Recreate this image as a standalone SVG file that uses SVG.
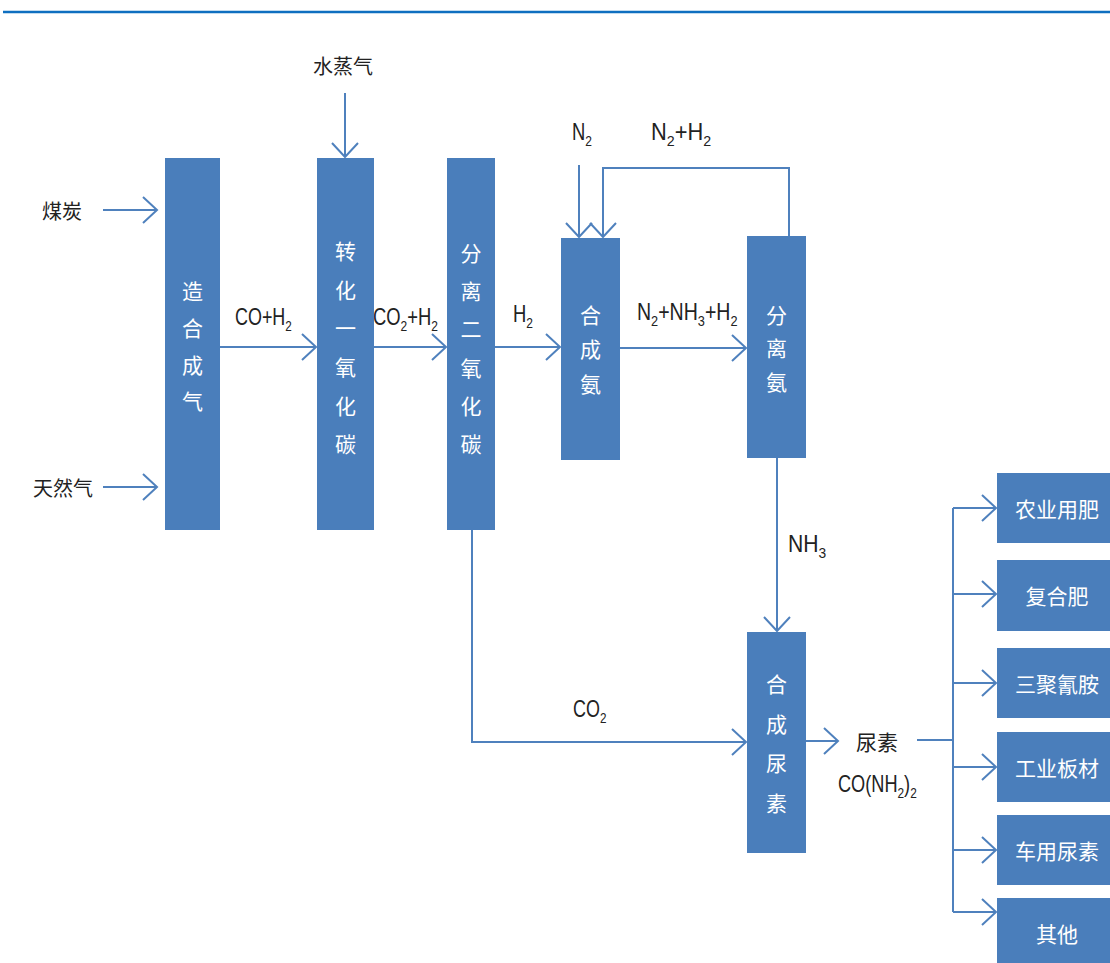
<svg xmlns="http://www.w3.org/2000/svg" width="1110" height="963" viewBox="0 0 1110 963">
<style>
.box{fill:#4A7EBB}
.bt{fill:#FFFFFF;font-family:"Noto Sans CJK SC",sans-serif;font-size:21px;text-anchor:middle;dominant-baseline:central}
.lbl{fill:#222;font-family:"Liberation Sans",Arial,sans-serif;font-size:23px}
.sub{font-size:15px}
.cn{fill:#222;font-family:"Noto Sans CJK SC",sans-serif;font-size:20px;text-anchor:middle;dominant-baseline:central}
.ln{fill:none;stroke:#4F81BD;stroke-width:2}
</style>
<defs>
<marker id="ar" markerUnits="userSpaceOnUse" viewBox="-16 -15 18 30" refX="0" refY="0" markerWidth="18" markerHeight="30" orient="auto" overflow="visible">
<path d="M-14,-13 L0,0 L-14,13" fill="none" stroke="#4F81BD" stroke-width="2"/>
</marker>
</defs>
<rect width="1110" height="963" fill="#FFFFFF"/>
<line x1="3" y1="12" x2="1110" y2="12" stroke="#0F6FC0" stroke-width="2.5"/>

<g id="connectors">
<line class="ln" x1="103" y1="210" x2="157" y2="210" marker-end="url(#ar)"/>
<line class="ln" x1="103" y1="487" x2="157" y2="487" marker-end="url(#ar)"/>
<line class="ln" x1="345" y1="93" x2="345" y2="157" marker-end="url(#ar)"/>
<line class="ln" x1="220" y1="347" x2="316" y2="347" marker-end="url(#ar)"/>
<line class="ln" x1="374" y1="347" x2="446" y2="347" marker-end="url(#ar)"/>
<line class="ln" x1="495" y1="347" x2="560" y2="347" marker-end="url(#ar)"/>
<line class="ln" x1="579" y1="165" x2="579" y2="237" marker-end="url(#ar)"/>
<path class="ln" d="M789,236 V168 H603 V237" marker-end="url(#ar)"/>
<line class="ln" x1="619" y1="348" x2="746" y2="348" marker-end="url(#ar)"/>
<line class="ln" x1="777" y1="458" x2="777" y2="631" marker-end="url(#ar)"/>
<path class="ln" d="M472,530 V742 H746" marker-end="url(#ar)"/>
<line class="ln" x1="806" y1="741" x2="838" y2="741" marker-end="url(#ar)"/>
<line class="ln" x1="917" y1="740" x2="953" y2="740"/>
<line class="ln" x1="953" y1="508" x2="953" y2="912"/>
<line class="ln" x1="953" y1="508" x2="996" y2="508" marker-end="url(#ar)"/>
<line class="ln" x1="953" y1="594" x2="996" y2="594" marker-end="url(#ar)"/>
<line class="ln" x1="953" y1="683" x2="996" y2="683" marker-end="url(#ar)"/>
<line class="ln" x1="953" y1="767" x2="996" y2="767" marker-end="url(#ar)"/>
<line class="ln" x1="953" y1="850" x2="996" y2="850" marker-end="url(#ar)"/>
<line class="ln" x1="953" y1="912" x2="996" y2="912" marker-end="url(#ar)"/>
</g>

<g id="labels">
<text class="cn" x="62" y="210">煤炭</text>
<text class="cn" x="63" y="487">天然气</text>
<text class="cn" x="343" y="65">水蒸气</text>
<text class="lbl" transform="translate(235,325) scale(0.78,1)">CO+H<tspan class="sub" dy="6">2</tspan></text>
<text class="lbl" transform="translate(373,325) scale(0.8,1)">CO<tspan class="sub" dy="6">2</tspan><tspan dy="-6">+H</tspan><tspan class="sub" dy="6">2</tspan></text>
<text class="lbl" transform="translate(513,322) scale(0.8,1)">H<tspan class="sub" dy="6">2</tspan></text>
<text class="lbl" transform="translate(572,140) scale(0.8,1)">N<tspan class="sub" dy="6">2</tspan></text>
<text class="lbl" transform="translate(651,140) scale(0.95,1)">N<tspan class="sub" dy="6">2</tspan><tspan dy="-6">+H</tspan><tspan class="sub" dy="6">2</tspan></text>
<text class="lbl" transform="translate(637,320) scale(0.85,1)">N<tspan class="sub" dy="6">2</tspan><tspan dy="-6">+NH</tspan><tspan class="sub" dy="6">3</tspan><tspan dy="-6">+H</tspan><tspan class="sub" dy="6">2</tspan></text>
<text class="lbl" transform="translate(788,552) scale(0.92,1)">NH<tspan class="sub" dy="6">3</tspan></text>
<text class="lbl" transform="translate(573,717) scale(0.78,1)">CO<tspan class="sub" dy="6">2</tspan></text>
<text class="cn" x="877" y="741" style="font-size:21px">尿素</text>
<text class="lbl" transform="translate(838,792) scale(0.79,1)">CO(NH<tspan class="sub" dy="6">2</tspan><tspan dy="-6">)</tspan><tspan class="sub" dy="6">2</tspan></text>
</g>

<g id="n1"><rect class="box" x="165" y="158" width="55" height="372"/>
<text class="bt" x="192.5" y="290">造</text><text class="bt" x="192.5" y="327">合</text><text class="bt" x="192.5" y="364">成</text><text class="bt" x="192.5" y="400">气</text></g>
<g id="n2"><rect class="box" x="317" y="158" width="57" height="372"/>
<text class="bt" x="345.5" y="250">转</text><text class="bt" x="345.5" y="289">化</text><text class="bt" x="345.5" y="327">一</text><text class="bt" x="345.5" y="366">氧</text><text class="bt" x="345.5" y="405">化</text><text class="bt" x="345.5" y="443">碳</text></g>
<g id="n3"><rect class="box" x="447" y="158" width="48" height="372"/>
<text class="bt" x="471" y="252">分</text><text class="bt" x="471" y="290">离</text><text class="bt" x="471" y="328">二</text><text class="bt" x="471" y="367">氧</text><text class="bt" x="471" y="405">化</text><text class="bt" x="471" y="443">碳</text></g>
<g id="n4"><rect class="box" x="561" y="238" width="59" height="222"/>
<text class="bt" x="590.5" y="314">合</text><text class="bt" x="590.5" y="348">成</text><text class="bt" x="590.5" y="383">氨</text></g>
<g id="n5"><rect class="box" x="747" y="236" width="59" height="222"/>
<text class="bt" x="776.5" y="314">分</text><text class="bt" x="776.5" y="347">离</text><text class="bt" x="776.5" y="381">氨</text></g>
<g id="n6"><rect class="box" x="747" y="632" width="59" height="221"/>
<text class="bt" x="776.5" y="683">合</text><text class="bt" x="776.5" y="723">成</text><text class="bt" x="776.5" y="762">尿</text><text class="bt" x="776.5" y="802">素</text></g>

<g id="o1"><rect class="box" x="997" y="473" width="120" height="70"/><text class="bt" x="1057" y="508">农业用肥</text></g>
<g id="o2"><rect class="box" x="997" y="560" width="120" height="71"/><text class="bt" x="1057" y="595">复合肥</text></g>
<g id="o3"><rect class="box" x="997" y="648" width="120" height="70"/><text class="bt" x="1057" y="683">三聚氰胺</text></g>
<g id="o4"><rect class="box" x="997" y="732" width="120" height="70"/><text class="bt" x="1057" y="767">工业板材</text></g>
<g id="o5"><rect class="box" x="997" y="815" width="120" height="70"/><text class="bt" x="1057" y="850">车用尿素</text></g>
<g id="o6"><rect class="box" x="997" y="898" width="120" height="70"/><text class="bt" x="1057" y="933">其他</text></g>
</svg>
